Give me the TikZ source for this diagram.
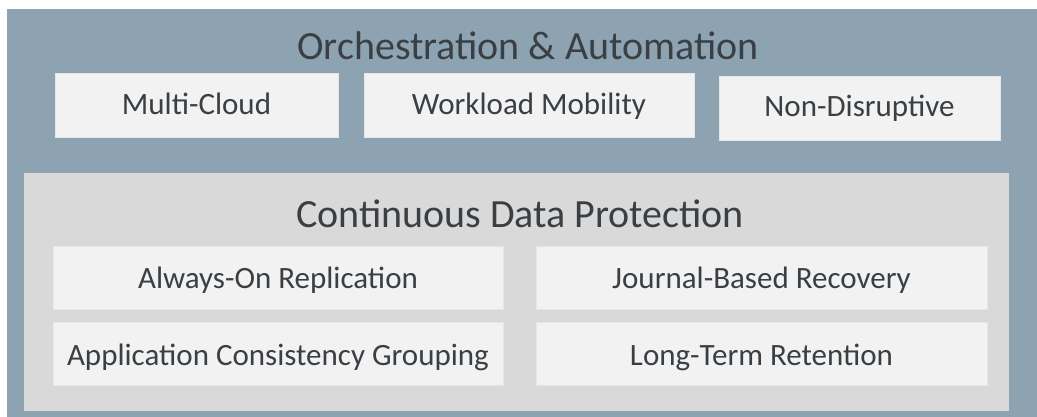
\documentclass[tikz,border=0pt]{standalone}
\usepackage{fontspec}
\setmainfont{Carlito}
\definecolor{outerblue}{HTML}{8DA3B2}
\definecolor{innergray}{HTML}{D9D9D9}
\definecolor{boxfill}{HTML}{F2F2F2}
\definecolor{boxline}{HTML}{E4E6E8}
\definecolor{txt}{HTML}{3A3F44}
\tikzset{
  featbox/.style={fill=boxfill, draw=boxline, line width=0.8pt},
  feattext/.style={text=txt, font=\fontsize{31}{37}\selectfont, inner sep=0pt, anchor=base},
  titletext/.style={text=txt, font=\fontsize{40}{48}\selectfont, inner sep=0pt, anchor=base},
}
\begin{document}
\begin{tikzpicture}[x=1pt,y=-1pt]
\useasboundingbox (0,0) rectangle (1037,417);
\fill[white] (0,0) rectangle (1037,417);
\fill[outerblue] (7,9) rectangle (1037,417);
\fill[innergray] (24,173) rectangle (1009,411);
\node[titletext] (orch) at (528,60) {Orchestration \& Automation};
\node[titletext] (cdp) at (520,228) {Continuous Data Protection};
% top boxes
\draw[featbox] (55,73) rectangle (338,137);
\node[feattext] (mc) at (196.5,115) {Multi-Cloud};
\draw[featbox] (364,73) rectangle (694,137);
\node[feattext] (wm) at (529,115) {Workload Mobility};
\draw[featbox] (719,76) rectangle (1000,140);
\node[feattext] (nd) at (859.5,117) {Non-Disruptive};
% bottom boxes
\draw[featbox] (53,246) rectangle (503,309);
\node[feattext] (aor) at (278,288.5) {Always-On Replication};
\draw[featbox] (536,246) rectangle (987,309);
\node[feattext] (jbr) at (761.5,288.5) {Journal-Based Recovery};
\draw[featbox] (53,322) rectangle (503,385);
\node[feattext] (acg) at (278,365) {Application Consistency Grouping};
\draw[featbox] (536,322) rectangle (987,385);
\node[feattext] (ltr) at (761.5,365) {Long-Term Retention};
\end{tikzpicture}
\end{document}
